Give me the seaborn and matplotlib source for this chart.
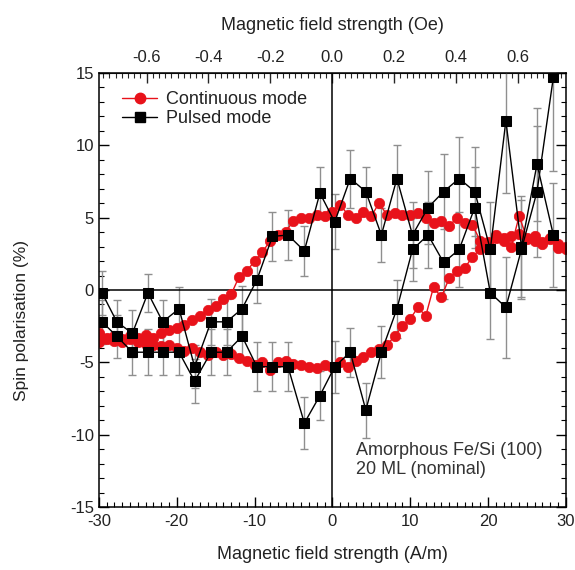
import numpy as np
import pandas as pd
import seaborn as sns
import matplotlib
matplotlib.use("Agg")
import matplotlib.pyplot as plt
from matplotlib.lines import Line2D
from matplotlib.ticker import MultipleLocator, FixedLocator, FormatStrFormatter

# campo barrido (A/m) para el modo continuo
cont_field = [-30, -29, -28, -27, -26, -25, -24, -23, -22, -21, -20, -19, -18, -17, -16,
              -15, -14, -13, -12, -11, -10, -9, -8, -7, -6, -5, -4, -3, -2, -1, 0,
              1, 2, 3, 4, 5, 6, 7, 8, 9, 10, 11, 12, 13, 14, 15,
              16, 17, 18, 19, 20, 21, 22, 23, 24, 25, 26, 27, 28, 29, 30]
# rama superior (barrido de + a -)
cont_upper = [-3.0, -3.3, -3.2, -3.4, -3.2, -3.3, -3.1, -3.3, -3.0, -2.8, -2.6, -2.4, -2.1, -1.8, -1.4,
              -1.1, -0.6, -0.3, 0.9, 1.3, 2.0, 2.6, 3.4, 3.8, 4.0, 4.8, 5.0, 5.0, 5.2, 5.1, 5.4,
              5.9, 5.2, 5.0, 5.4, 5.1, 6.0, 5.2, 5.3, 5.2, 5.2, 5.3, 5.0, 4.6, 4.8, 4.4,
              5.0, 4.6, 4.5, 3.4, 3.2, 3.8, 3.6, 3.0, 5.1, 3.6, 3.4, 3.2, 3.5, 2.9, 3.0]
# rama inferior (barrido de - a +)
cont_lower = [-3.6, -3.4, -3.5, -3.6, -3.4, -3.6, -3.7, -3.8, -3.9, -3.8, -4.0, -4.2, -4.0, -4.3, -4.5,
              -4.3, -4.5, -4.4, -4.7, -4.9, -5.2, -5.0, -5.5, -5.0, -4.9, -5.1, -5.2, -5.3, -5.4, -5.2, -5.3,
              -5.0, -5.3, -4.9, -4.6, -4.3, -4.1, -3.8, -3.2, -2.5, -2.0, -1.2, -1.8, 0.2, -0.5, 0.8,
              1.3, 1.5, 2.3, 2.8, 3.3, 3.6, 3.4, 3.7, 3.9, 3.5, 3.7, 3.3, 3.6, 3.2, 2.8]

# modo pulsado
pulsed_field = [-29.6, -27.7, -25.7, -23.7, -21.8, -19.7, -17.7, -15.6, -13.6, -11.6,
                -9.7, -7.7, -5.7, -3.6, -1.6, 0.3, 2.3, 4.3, 6.3, 8.3,
                10.3, 12.3, 14.3, 16.3, 18.3, 20.3, 22.3, 24.3, 26.3, 28.4]
pulsed_upper = [-0.2, -2.2, -3.0, -0.2, -2.2, -1.3, -5.3, -2.2, -2.2, -1.3,
                0.7, 3.7, 3.8, 2.7, 6.7, 4.7, 7.7, 6.8, 3.8, 7.7,
                3.8, 5.7, 6.8, 7.7, 6.8, 2.8, 11.7, 3.0, 8.7, 3.8]
pulsed_upper_err = [1.5, 1.5, 1.6, 1.3, 1.5, 1.5, 1.5, 1.6, 1.6, 1.6,
                    1.6, 1.7, 1.7, 1.7, 1.8, 1.9, 2.0, 1.7, 1.9, 2.3,
                    2.3, 2.5, 2.6, 2.9, 3.1, 3.3, 5.0, 3.5, 3.9, 3.6]
pulsed_lower = [-2.2, -3.2, -4.3, -4.3, -4.3, -4.3, -6.3, -4.3, -4.3, -3.2,
                -5.3, -5.3, -5.3, -9.2, -7.3, -5.3, -4.3, -8.3, -4.3, -1.3,
                2.8, 3.8, 1.9, 2.8, 5.7, -0.2, -1.2, 2.8, 6.8, 14.7]
pulsed_lower_err = [1.5, 1.5, 1.6, 1.6, 1.6, 1.6, 1.5, 1.6, 1.6, 1.6,
                    1.7, 1.7, 1.7, 1.8, 1.7, 1.8, 1.7, 1.9, 1.8, 2.0,
                    2.2, 2.3, 2.5, 2.6, 2.8, 3.2, 3.5, 3.4, 4.5, 6.5]

oe_ticks = [-0.6, -0.4, -0.2, 0.0, 0.2, 0.4, 0.6]

AM_PER_OE = 39.79
RED = "#e8121a"
TXT = "#222222"

sns.set_style("ticks")
plt.rcParams["font.family"] = ["Liberation Sans", "DejaVu Sans"]
plt.rcParams["axes.unicode_minus"] = False

cont = pd.concat([
    pd.DataFrame({"field": cont_field, "pol": cont_upper, "rama": "up"}),
    pd.DataFrame({"field": cont_field, "pol": cont_lower, "rama": "down"}),
])
puls = pd.concat([
    pd.DataFrame({"field": pulsed_field, "pol": pulsed_upper, "err": pulsed_upper_err, "rama": "up"}),
    pd.DataFrame({"field": pulsed_field, "pol": pulsed_lower, "err": pulsed_lower_err, "rama": "down"}),
])

fig = plt.figure(figsize=(5.75, 5.7), dpi=100)
ax = fig.add_axes([0.172, 0.1105, 0.812, 0.7615])

# barras de error (gris)
ax.errorbar(puls["field"], puls["pol"], yerr=puls["err"], fmt="none",
            ecolor="#8f8f8f", elinewidth=1, capsize=3, capthick=1, zorder=1)

# lineas de referencia
ax.axhline(0, color="black", lw=1.1, zorder=1.5)
ax.axvline(0, color="black", lw=1.1, zorder=1.5)

sns.lineplot(data=cont, x="field", y="pol", units="rama", estimator=None, sort=False,
             color=RED, marker="o", markersize=7.5, markeredgecolor=RED, markeredgewidth=0.5,
             lw=1, legend=False, ax=ax, zorder=2)
sns.lineplot(data=puls, x="field", y="pol", units="rama", estimator=None, sort=False,
             color="black", marker="s", markersize=7.5, markeredgecolor="black",
             lw=1, legend=False, ax=ax, zorder=3)

ax.set_xlim(-30, 30)
ax.set_ylim(-15, 15)
ax.xaxis.set_major_locator(MultipleLocator(10))
ax.xaxis.set_minor_locator(MultipleLocator(1))
ax.yaxis.set_major_locator(MultipleLocator(5))
ax.yaxis.set_minor_locator(MultipleLocator(1))
ax.xaxis.set_major_formatter(FormatStrFormatter("%d"))
ax.yaxis.set_major_formatter(FormatStrFormatter("%d"))
ax.tick_params(which="both", direction="in", right=True, top=False, colors="black",
               labelcolor=TXT, labelsize=12)
ax.tick_params(which="major", length=7, width=1)
ax.tick_params(which="minor", length=3.5, width=0.8)
ax.tick_params(axis="x", pad=5)
for s in ax.spines.values():
    s.set_color("black")
    s.set_linewidth(1.1)

ax.set_xlabel("Magnetic field strength (A/m)", fontsize=13, color=TXT, labelpad=12)
ax.set_ylabel("Spin polarisation (%)", fontsize=12.5, color=TXT)
ax.yaxis.set_label_coords(-0.15, 0.43)

# eje superior en Oe
secax = ax.secondary_xaxis("top", functions=(lambda x: x / AM_PER_OE, lambda x: x * AM_PER_OE))
secax.xaxis.set_major_locator(FixedLocator(oe_ticks))
secax.xaxis.set_minor_locator(FixedLocator(np.round(np.arange(-0.74, 0.75, 0.02), 2)))
secax.xaxis.set_major_formatter(FormatStrFormatter("%.1f"))
secax.tick_params(which="both", direction="in", labelcolor=TXT, labelsize=12, pad=6)
secax.tick_params(which="major", length=7, width=1)
secax.tick_params(which="minor", length=3.5, width=0.8)
secax.set_xlabel("Magnetic field strength (Oe)", fontsize=13, color=TXT, labelpad=14)

handles = [
    Line2D([], [], color=RED, marker="o", markersize=7.5, lw=1),
    Line2D([], [], color="black", marker="s", markersize=7.5, lw=1),
]
ax.legend(handles, ["Continuous mode", "Pulsed mode"], loc="upper left",
          bbox_to_anchor=(0.035, 0.975), frameon=False, fontsize=13, handlelength=1.9,
          handletextpad=0.5, labelspacing=0.1, borderaxespad=0, labelcolor=TXT)

ax.text(3.1, -11.75, "Amorphous Fe/Si (100)\n20 ML (nominal)", fontsize=13, color="#333333",
        va="center", ha="left", linespacing=1.1)

fig.savefig("out.png", dpi=100)
